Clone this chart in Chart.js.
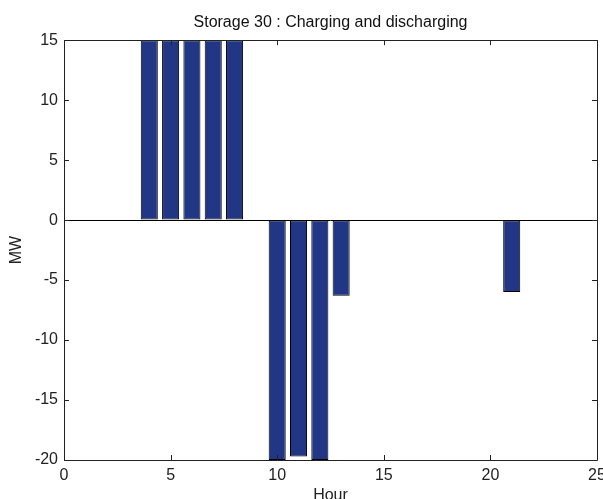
<!DOCTYPE html>
<html>
<head>
<meta charset="utf-8">
<script src="https://cdn.jsdelivr.net/npm/chart.js@4.4.1/dist/chart.umd.min.js"></script>
<style>
  html, body { margin: 0; padding: 0; background: #fff; overflow: hidden; }
  #wrap { width: 620px; height: 499px; }
</style>
</head>
<body>
<div id="wrap"><canvas id="c" width="620" height="499"></canvas></div>
<script>
// Data
const hours = [1,2,3,4,5,6,7,8,9,10,11,12,13,14,15,16,17,18,19,20,21,22,23,24];
const power = [0,0,0,15,15,15,15,15,0,-20,-19.7,-20,-6.3,0,0,0,0,0,0,0,-6,0,0,0];
const xTicks = [0,5,10,15,20,25];
const yTicks = [-20,-15,-10,-5,0,5,10,15];
const titleText = 'Storage 30 : Charging and discharging';
const xLabel = 'Hour';
const yLabel = 'MW';

const FONT = "'Liberation Sans', Arial, sans-serif";
const points = hours.map((h, i) => ({ x: h, y: power[i] }));

const boxPlugin = {
  id: 'matlabBox',
  afterDraw(chart) {
    const { ctx, chartArea: a, scales } = chart;
    const len = 5;
    ctx.save();
    ctx.strokeStyle = '#222';
    ctx.lineWidth = 1;
    ctx.beginPath();
    scales.x.ticks.forEach(t => {
      const px = Math.round(scales.x.getPixelForValue(t.value)) + 0.5;
      ctx.moveTo(px, a.bottom); ctx.lineTo(px, a.bottom - len);
      ctx.moveTo(px, a.top); ctx.lineTo(px, a.top + len);
    });
    scales.y.ticks.forEach(t => {
      const py = Math.round(scales.y.getPixelForValue(t.value)) + 0.5;
      ctx.moveTo(a.left, py); ctx.lineTo(a.left + len, py);
      ctx.moveTo(a.right, py); ctx.lineTo(a.right - len, py);
    });
    ctx.stroke();
    ctx.beginPath();
    ctx.rect(Math.round(a.left) + 0.5, Math.round(a.top) + 0.5,
             Math.round(a.right - a.left), Math.round(a.bottom - a.top));
    ctx.stroke();
    ctx.restore();
  }
};

new Chart(document.getElementById('c'), {
  type: 'bar',
  data: {
    datasets: [{
      data: points,
      backgroundColor: 'rgb(33,54,132)',
      borderColor: '#000',
      borderWidth: 1,
      borderSkipped: false,
      categoryPercentage: 1.0,
      barPercentage: 0.8
    }]
  },
  options: {
    responsive: false,
    animation: false,
    devicePixelRatio: 1,
    layout: { padding: { left: 0, right: 23, top: 0, bottom: 0 } },
    plugins: {
      legend: { display: false },
      tooltip: { enabled: false },
      title: {
        display: true,
        fullSize: false,
        text: titleText,
        color: '#111',
        font: { family: FONT, size: 16, weight: 'normal' },
        padding: { top: 13, bottom: 8 }
      }
    },
    scales: {
      x: {
        type: 'linear',
        min: 0, max: 25,
        offset: false,
        afterBuildTicks(s) { s.ticks = xTicks.map(v => ({ value: v })); },
        afterFit(s) { s.height = 39; },
        grid: { display: false, offset: false },
        border: { display: false },
        ticks: {
          color: '#222',
          font: { family: FONT, size: 16 },
          padding: -2,
          maxRotation: 0,
          autoSkip: false
        },
        title: {
          display: true,
          text: xLabel,
          color: '#222',
          font: { family: FONT, size: 16 },
          padding: { top: 0, bottom: -6 }
        }
      },
      y: {
        min: -20, max: 15,
        afterBuildTicks(s) { s.ticks = yTicks.map(v => ({ value: v })); },
        afterFit(s) { s.width = 64; },
        grid: {
          drawTicks: false,
          color: ctx => (ctx.tick && ctx.tick.value === 0) ? '#000' : 'rgba(0,0,0,0)',
          lineWidth: 1
        },
        border: { display: false },
        ticks: {
          color: '#222',
          font: { family: FONT, size: 16 },
          padding: 6,
          autoSkip: false
        },
        title: {
          display: true,
          text: yLabel,
          color: '#222',
          font: { family: FONT, size: 16 },
          padding: { top: 7, bottom: 0 }
        }
      }
    }
  },
  plugins: [boxPlugin]
});
</script>
</body>
</html>
